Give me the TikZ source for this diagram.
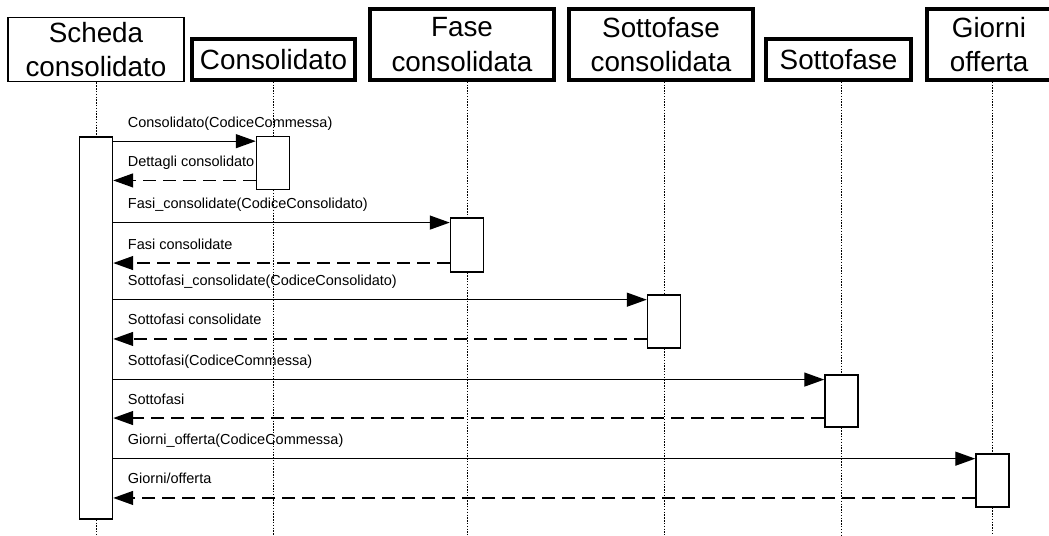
\documentclass[tikz,border=0pt]{standalone}
\usepackage{fontspec}
\setmainfont{Liberation Sans}
\usetikzlibrary{arrows.meta}

\tikzset{
  head/.style={draw, line width=2.6pt, align=center, inner sep=0pt,
    font=\fontsize{19.8}{24.5}\selectfont},
  act/.style={draw, fill=white, line width=0.9pt, minimum width=0.83cm, inner sep=0pt},
  lifeline/.style={line width=0.7pt, dash pattern=on 1pt off 1pt},
  call/.style={line width=0.95pt, -{Triangle[length=0.5cm,width=0.35cm]}},
  ret/.style={call, dash pattern=on 0.32cm off 0.18cm},
  msg/.style={font=\fontsize{10.3}{12}\selectfont, anchor=base west, inner sep=0pt,
    pos=0, xshift=0.35cm, yshift=0.35cm}
}

\begin{document}
\begin{tikzpicture}[x=0.025cm, y=-0.025cm]
  \useasboundingbox (0,0) rectangle (1049,535);
  \coordinate (bot) at (0,535);

  % Participants:
  \node[head, line width=0.8pt, minimum width=4.4cm, minimum height=1.62cm] (sc) at (96,49.5) {Scheda\\consolidato};
  \node[head, minimum width=4.07cm, minimum height=1.02cm] (cons) at (273.5,59.5) {Consolidato};
  \node[head, minimum width=4.6cm, minimum height=1.77cm] (fase) at (462,44.5) {Fase\\consolidata};
  \node[head, minimum width=4.6cm, minimum height=1.77cm] (sfc) at (661,44.5) {Sottofase\\consolidata};
  \node[head, minimum width=3.62cm, minimum height=1.02cm] (sf) at (838.5,59.5) {Sottofase};
  \node[head, minimum width=3.1cm, minimum height=1.77cm] (go) at (989,44.5) {Giorni\\offerta};

  % Activation bars
  \node[act, minimum height=9.55cm] (a0) at (96,328) {};
  \node[act, minimum height=1.32cm] (a1) at (273,163) {};
  \node[act, minimum height=1.35cm] (a2) at (467,245) {};
  \node[act, minimum height=1.32cm] (a3) at (664,321.5) {};
  \node[act, minimum height=1.3cm] (a4) at (841.5,401) {};
  \node[act, minimum height=1.32cm] (a5) at (992.5,480.5) {};

  % Lifelines, broken by the bars
  \foreach \a/\h in {a0/sc, a1/cons, a2/fase, a3/sfc, a4/sf, a5/go}{
    \draw[lifeline] (\a |- \h.south) -- (\a.north);
    \draw[lifeline] (\a.south) -- (\a |- bot);
  }

  % Messages and replies
  \foreach \i in {1,...,5}{
    \coordinate (c\i) at ([yshift=-0.13cm]a\i.north west);
    \coordinate (r\i) at ([yshift=0.24cm]a\i.south west);
  }
  \draw[call] (a0.east |- c1) -- (c1) node[msg] {Consolidato(CodiceCommessa)};
  \draw[ret] (r1) -- (a0.east |- r1) node[msg, pos=1] {Dettagli consolidato};
  \draw[call] (a0.east |- c2) -- (c2) node[msg] {Fasi\_consolidate(CodiceConsolidato)};
  \draw[ret] (r2) -- (a0.east |- r2) node[msg, pos=1] {Fasi consolidate};
  \draw[call] (a0.east |- c3) -- (c3) node[msg] {Sottofasi\_consolidate(CodiceConsolidato)};
  \draw[ret] (r3) -- (a0.east |- r3) node[msg, pos=1] {Sottofasi consolidate};
  \draw[call] (a0.east |- c4) -- (c4) node[msg] {Sottofasi(CodiceCommessa)};
  \draw[ret] (r4) -- (a0.east |- r4) node[msg, pos=1] {Sottofasi};
  \draw[call] (a0.east |- c5) -- (c5) node[msg] {Giorni\_offerta(CodiceCommessa)};
  \draw[ret] (r5) -- (a0.east |- r5) node[msg, pos=1] {Giorni/offerta};
\end{tikzpicture}
\end{document}
